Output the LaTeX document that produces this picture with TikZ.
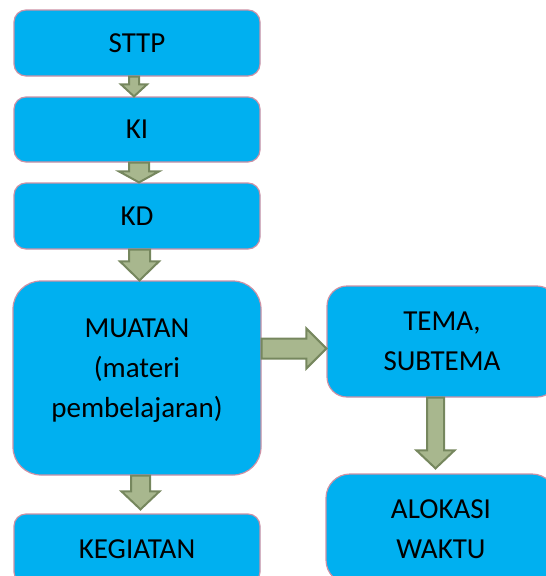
\documentclass[tikz,border=0pt]{standalone}
\usepackage{fontspec}
\setmainfont{Carlito}
\usetikzlibrary{calc}
\definecolor{boxfill}{HTML}{00B0F0}
\definecolor{boxline}{RGB}{205,145,165}
\definecolor{arrowfill}{RGB}{168,183,142}
\definecolor{arrowline}{RGB}{118,135,94}

% fat arrow down: from, to, shaft half width, head half width, head length
\newcommand{\vblock}[5]{%
  \draw[blockarrow] let \p1=(#1), \p2=(#2) in
    (\x1-#3pt,\y1) -- (\x1+#3pt,\y1) -- (\x1+#3pt,\y2+#5pt) -- (\x1+#4pt,\y2+#5pt)
    -- (\x1,\y2) -- (\x1-#4pt,\y2+#5pt) -- (\x1-#3pt,\y2+#5pt) -- cycle;}
% fat arrow right
\newcommand{\hblock}[5]{%
  \draw[blockarrow] let \p1=(#1), \p2=(#2) in
    (\x1,\y2+#3pt) -- (\x2-#5pt,\y2+#3pt) -- (\x2-#5pt,\y2+#4pt) -- (\x2,\y2)
    -- (\x2-#5pt,\y2-#4pt) -- (\x2-#5pt,\y2-#3pt) -- (\x1,\y2-#3pt) -- cycle;}

\begin{document}
\begin{tikzpicture}[x=1pt,y=-1pt]
\tikzset{box/.style = {shape=rectangle,draw=boxline,fill=boxfill,line width=1.2pt,
		rounded corners=12pt,align=center,font=\fontsize{29}{40}\selectfont}}
\tikzset{blockarrow/.style = {draw=arrowline,fill=arrowfill,line width=2pt,line join=miter}}
\useasboundingbox (0,0) rectangle (546,576);
\clip (0,0) rectangle (546,576);
% boxes
\node[box,minimum width=246pt,minimum height=66pt] (sttp) at (137,43) {STTP};
\node[box,minimum width=246pt,minimum height=65pt] (ki) at (137,129.5) {KI};
\node[box,minimum width=246pt,minimum height=66pt] (kd) at (137,216) {KD};
\node[box,minimum width=248pt,minimum height=194pt,rounded corners=28pt,text depth=20pt] (muatan) at (137,378)
	{MUATAN\\(materi\\pembelajaran)};
\node[box,minimum width=246pt,minimum height=70pt] (kegiatan) at (137,549) {KEGIATAN};
\node[box,minimum width=230pt,minimum height=111pt,rounded corners=20pt] (tema) at (442,341.5)
	{TEMA,\\SUBTEMA};
\node[box,minimum width=230pt,minimum height=110pt,rounded corners=24pt] (alokasi) at (441,529)
	{ALOKASI\\WAKTU};

% arrows
\vblock{[xshift=-3pt]sttp.south}{ki.north}{5}{13}{12}
\vblock{[xshift=2pt]ki.south}{ki.north |- kd.north}{10}{20}{11}
\vblock{[xshift=2.5pt]kd.south}{kd.north |- muatan.north}{10.5}{19.5}{19}
\vblock{[xshift=3.5pt]muatan.south}{[yshift=4pt]kegiatan.north}{9.5}{19}{18}
\hblock{muatan.east}{[yshift=-7pt]tema.west}{10}{20}{20}
\vblock{[xshift=-6.5pt]tema.south}{[yshift=5pt]alokasi.north}{8.5}{19}{18}
\end{tikzpicture}
\end{document}
